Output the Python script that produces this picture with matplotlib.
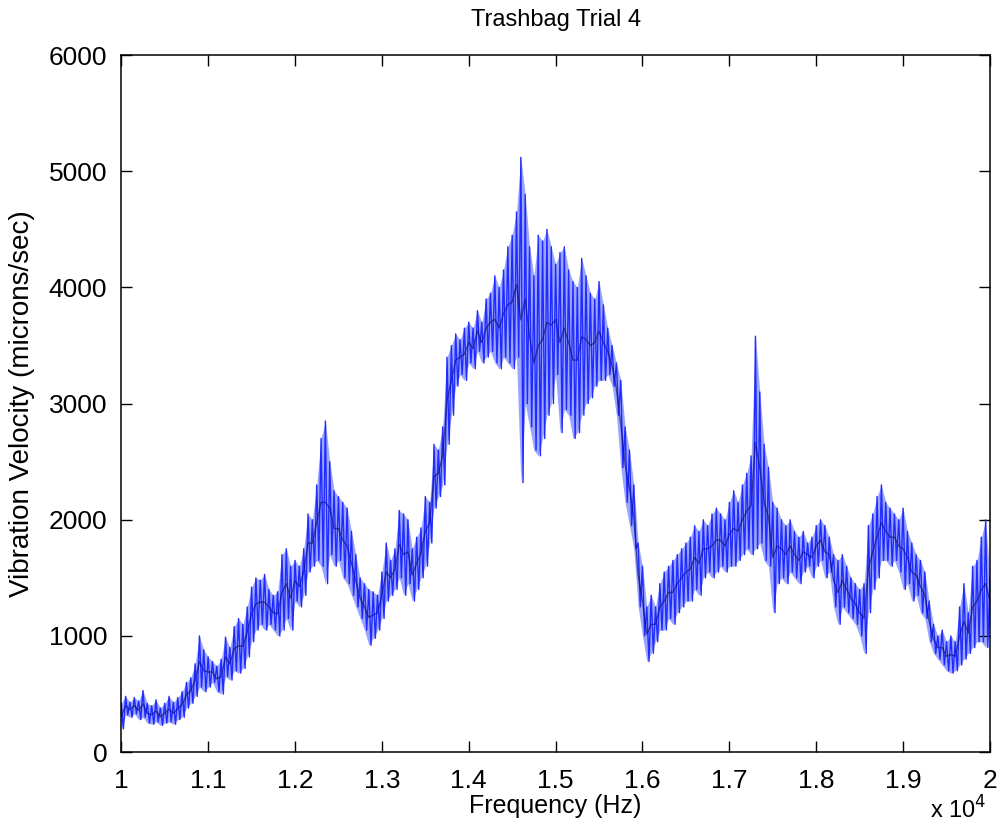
import numpy as np
import matplotlib
matplotlib.use("Agg")
import matplotlib.pyplot as plt

plt.rcParams['font.family'] = ['Liberation Sans', 'DejaVu Sans']

title = "Trashbag Trial 4"
xlabel = "Frequency (Hz)"
ylabel = "Vibration Velocity (microns/sec)"
x_ticks = [1, 1.1, 1.2, 1.3, 1.4, 1.5, 1.6, 1.7, 1.8, 1.9, 2]
x_ticklabels = ["1", "1.1", "1.2", "1.3", "1.4", "1.5", "1.6", "1.7", "1.8", "1.9", "2"]
y_ticks = [0, 1000, 2000, 3000, 4000, 5000, 6000]

# frequency grid (x 10^4 Hz), step 0.005
freq_start, freq_stop, freq_step = 1.0, 2.0, 0.005

# upper excursions of the velocity trace (microns/sec)
vel_hi = [
    420, 480, 430, 470, 440, 530, 420, 400, 450, 380,
    420, 480, 430, 470, 520, 600, 640, 760, 1000, 880,
    820, 780, 740, 800, 990, 900, 1080, 1150, 1100, 1250,
    1420, 1500, 1480, 1530, 1400, 1350, 1380, 1700, 1750, 1600,
    1650, 1600, 1750, 2050, 2000, 2300, 2700, 2850, 2500, 2250,
    2200, 2150, 2100, 1900, 1700, 1500, 1450, 1400, 1380, 1350,
    1550, 1800, 1650, 1750, 2080, 2050, 2000, 1750, 1850, 1930,
    2200, 2150, 2650, 2600, 2800, 3400, 3500, 3600, 3550, 3650,
    3700, 3650, 3800, 3700, 3900, 3950, 4100, 4000, 4150, 4350,
    4450, 4650, 5120, 4800, 4350, 4100, 4450, 4400, 4500, 4350,
    4200, 4300, 4350, 4150, 4050, 4000, 4250, 4100, 3950, 3900,
    4050, 3850, 3650, 3500, 3350, 3200, 2800, 2600, 2300, 1800,
    1600, 1250, 1350, 1250, 1450, 1550, 1600, 1650, 1700, 1750,
    1800, 1850, 1950, 1900, 2000, 1950, 2050, 2100, 2050, 2000,
    2150, 2250, 2150, 2300, 2400, 2550, 3580, 3100, 2650, 2450,
    2150, 2100, 2000, 1950, 2000, 1900, 1850, 1900, 1800, 1850,
    1950, 2000, 1950, 1850, 1700, 1650, 1700, 1600, 1500, 1450,
    1400, 1450, 1950, 2050, 2200, 2300, 2150, 2100, 2050, 2000,
    2100, 1900, 1800, 1700, 1650, 1550, 1300, 1100, 1000, 1050,
    950, 1000, 950, 1250, 1450, 1200, 1600, 1650, 1850, 2000,
    1500,
]

# lower excursions of the velocity trace (microns/sec)
vel_lo = [
    200, 320, 300, 330, 280, 300, 250, 240, 260, 230,
    250, 260, 240, 280, 300, 380, 420, 480, 560, 520,
    560, 600, 520, 500, 650, 620, 700, 680, 720, 820,
    950, 1050, 1100, 1050, 1100, 1050, 1000, 1050, 1150, 1050,
    1300, 1250, 1350, 1550, 1600, 1650, 1600, 1450, 1700, 1600,
    1650, 1500, 1450, 1350, 1250, 1150, 1050, 920, 980, 1050,
    1150, 1300, 1350, 1400, 1500, 1350, 1450, 1300, 1400, 1500,
    1600, 1800, 2100, 2200, 2300, 2650, 2900, 3150, 3250, 3200,
    3350, 3300, 3450, 3350, 3400, 3450, 3350, 3300, 3400, 3350,
    3300, 3400, 2320, 3000, 2800, 2600, 2550, 2700, 2900, 3000,
    3250, 2750, 2950, 2900, 2700, 2750, 2900, 3000, 3050, 3150,
    3200, 3200, 3250, 3150, 2900, 2450, 2150, 1950, 1750, 1250,
    1000, 780, 850, 950, 1050, 1050, 1150, 1100, 1200, 1250,
    1300, 1300, 1400, 1350, 1500, 1550, 1500, 1550, 1600, 1550,
    1600, 1600, 1650, 1700, 1750, 1700, 1750, 1800, 1650, 1600,
    1200, 1450, 1500, 1450, 1550, 1500, 1450, 1550, 1600, 1500,
    1600, 1650, 1500, 1550, 1250, 1100, 1250, 1200, 1150, 1100,
    1000, 850, 1200, 1400, 1500, 1650, 1650, 1600, 1650, 1550,
    1400, 1450, 1300, 1350, 1200, 1150, 950, 850, 800, 750,
    700, 680, 700, 750, 800, 850, 900, 950, 950, 900,
    1100,
]

freq = np.arange(len(vel_hi)) * freq_step + freq_start
assert len(vel_hi) == len(vel_lo)
hi = np.array(vel_hi, dtype=float)
lo = np.array(vel_lo, dtype=float)

# interleave high / low excursions to form the dense trace
xs = np.empty(2 * len(freq))
ys = np.empty(2 * len(freq))
xs[0::2] = freq
xs[1::2] = freq + freq_step / 2
ys[0::2] = hi
ys[1::2] = lo

fig = plt.figure(figsize=(10.02, 8.22), dpi=100)
ax = fig.add_axes([0.121, 0.085, 0.867, 0.848])

ax.fill_between(freq, lo, hi, color='#4a5cff', alpha=0.55, lw=0)
ax.plot(xs, ys, color='#1f2bff', lw=1.0)
mid = (hi + lo) / 2
ax.plot(freq, mid, color='#10106e', lw=1.0, alpha=0.65)

ax.set_xlim(freq_start, freq_stop)
ax.set_ylim(0, 6000)
ax.set_xticks(x_ticks)
ax.set_xticklabels(x_ticklabels)
ax.set_yticks(y_ticks)
ax.tick_params(direction='in', length=8, width=1, top=True, right=True,
               labelsize=19)
ax.tick_params(axis='y', pad=10)
ax.tick_params(axis='x', pad=12)
for s in ax.spines.values():
    s.set_linewidth(1.1)

ax.set_title(title, fontsize=17, pad=21)
ax.set_xlabel(xlabel, fontsize=18, labelpad=1)
ax.set_ylabel(ylabel, fontsize=20, labelpad=10)
fig.text(0.928, 0.004, "x 10$^4$", fontsize=17)

fig.savefig("out.png", dpi=100)
